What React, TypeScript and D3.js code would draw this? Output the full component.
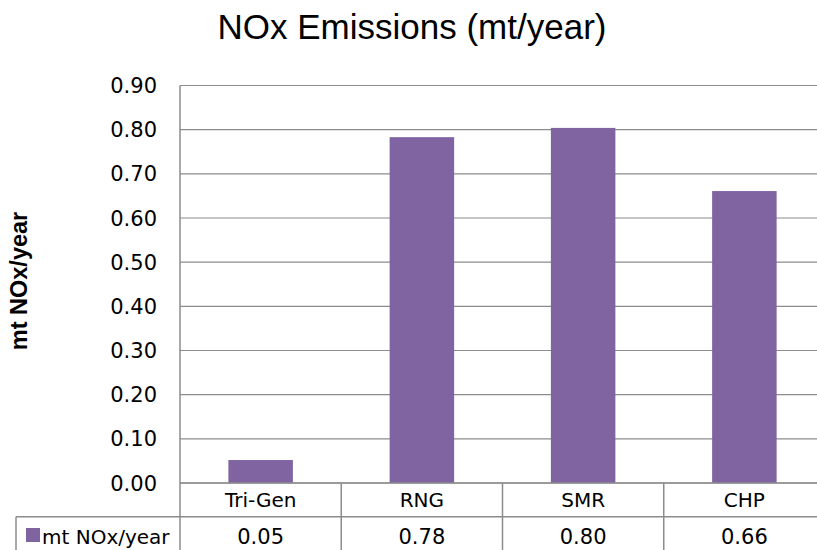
import React from "react";
import * as d3 from "d3";

const categories = ["Tri-Gen", "RNG", "SMR", "CHP"];
const values = [0.052, 0.783, 0.804, 0.661];
const yTicks = [0, 0.1, 0.2, 0.3, 0.4, 0.5, 0.6, 0.7, 0.8, 0.9];
const seriesName = "mt NOx/year";
const title = "NOx Emissions (mt/year)";

const W = 817;
const H = 550;
const plotLeft = 180;
const plotRight = 825;
const plotTop = 85.5;
const plotBottom = 483;
const rowH = 33.7;
const legendLeft = 16;

const BAR = "#8064a2";
const GRID = "#8c8c8c";
const SANS = "'Liberation Sans', Arial, sans-serif";
const WIDE = "'DejaVu Sans', sans-serif";

export default function App() {
  const x = d3.scaleBand<string>().domain(categories).range([plotLeft, plotRight]).paddingInner(0).paddingOuter(0);
  const y = d3.scaleLinear().domain([0, 0.9]).range([plotBottom, plotTop]);
  const bw = x.bandwidth() * 0.4;
  const row1Bottom = plotBottom + rowH;

  return (
    <svg width={W} height={H} style={{ position: "absolute", left: 0, top: 0, background: "#fff" }}>
      <rect x={0} y={0} width={W} height={H} fill="#fff" />
      <text x={412} y={39} textAnchor="middle" fontSize={35} fontFamily={SANS} fill="#000">{title}</text>

      {yTicks.map((t) => (
        <g key={t}>
          <line x1={plotLeft} x2={plotRight} y1={y(t)} y2={y(t)} stroke={GRID} strokeWidth={1.2} />
          <text x={157} y={y(t)} dy="0.36em" textAnchor="end" fontSize={21} fontFamily={WIDE} fill="#000">{d3.format(".2f")(t)}</text>
        </g>
      ))}

      <text transform={`translate(26.5,281) rotate(-90)`} textAnchor="middle" fontSize={23.5} fontFamily={SANS} fontWeight="bold" fill="#000">{seriesName}</text>

      {categories.map((c, i) => (
        <rect key={c} x={(x(c) as number) + (x.bandwidth() - bw) / 2} y={y(values[i])} width={bw} height={plotBottom - y(values[i])} fill={BAR} />
      ))}

      <line x1={plotLeft} x2={plotLeft} y1={plotTop} y2={H} stroke={GRID} strokeWidth={1.5} />
      <line x1={plotLeft} x2={plotRight} y1={plotBottom} y2={plotBottom} stroke={GRID} strokeWidth={1.5} />
      <line x1={legendLeft} x2={plotRight} y1={row1Bottom} y2={row1Bottom} stroke={GRID} strokeWidth={1.5} />
      <line x1={legendLeft} x2={legendLeft} y1={row1Bottom} y2={H} stroke={GRID} strokeWidth={1.5} />
      {categories.slice(1).map((c) => (
        <line key={c} x1={x(c) as number} x2={x(c) as number} y1={plotBottom} y2={H} stroke={GRID} strokeWidth={1.5} />
      ))}

      {categories.map((c, i) => (
        <g key={c}>
          <text x={(x(c) as number) + x.bandwidth() / 2} y={plotBottom + rowH / 2} dy="0.36em" textAnchor="middle" fontSize={20} fontFamily={WIDE} fill="#000">{c}</text>
          <text x={(x(c) as number) + x.bandwidth() / 2} y={row1Bottom + rowH / 2 + 3} dy="0.36em" textAnchor="middle" fontSize={21} fontFamily={WIDE} fill="#000">{d3.format(".2f")(values[i])}</text>
        </g>
      ))}

      <rect x={26} y={528} width={14} height={14} fill={BAR} />
      <text x={42} y={row1Bottom + rowH / 2 + 3} dy="0.36em" fontSize={20} fontFamily={WIDE} fill="#000">{seriesName}</text>
    </svg>
  );
}
